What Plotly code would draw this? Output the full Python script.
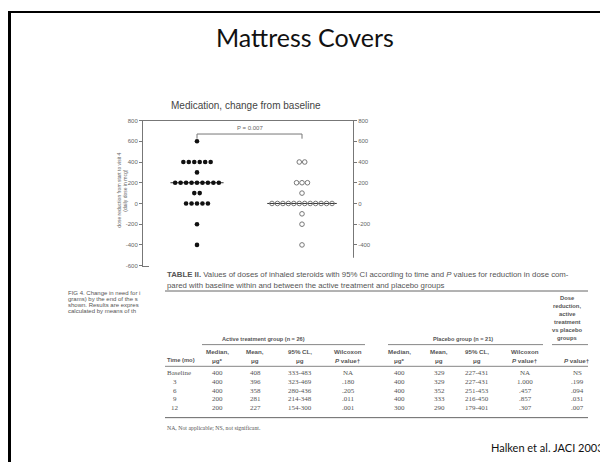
import plotly.graph_objects as go
from collections import Counter

W, H = 608, 462

# ---------------- data ----------------
slide_title = "Mattress Covers"
chart_title = "Medication, change from baseline"
y_title_lines = ["dose reduction from start to visit 4", "(daily dose in mcg)"]
group_pos = [1, 2]
active_values = [600] + [400] * 6 + [300] + [200] * 9 + [100] * 2 + [0] * 5 + [-200] + [-400]
placebo_values = [400] * 2 + [200] * 3 + [100] + [0] * 12 + [-100] + [-200] + [-400]
active_median = 200
placebo_median = 0
p_label = "P = 0.007"
y_ticks = [800, 600, 400, 200, 0, -200, -400, -600]
y_tick_text = ["800", "600", "400", "200", "0", "-200", "-400", "-600"]

fig_caption = ["FIG 4. Change in need for i", "grams) by the end of the s",
               "shown. Results are expres", "calculated by means of th"]

table_caption = ["<b>TABLE II.</b> Values of doses of inhaled steroids with 95% CI according to time and <i>P</i> values for reduction in dose com-",
                 "pared with baseline within and between the active treatment and placebo groups"]
dose_header = ["Dose", "reduction,", "active", "treatment", "vs placebo", "groups"]
group_headers = ["Active treatment group (n = 26)", "Placebo group (n = 21)"]
col_headers = [("", "Time (mo)"), ("Median,", "μg*"), ("Mean,", "μg"), ("95% CL,", "μg"),
               ("Wilcoxon", "<i>P</i> value†"), ("Median,", "μg*"), ("Mean,", "μg"),
               ("95% CL,", "μg"), ("Wilcoxon", "<i>P</i> value†"), ("", "<i>P</i> value†")]
time_labels = ["Baseline", "3", "6", "9", "12"]
act_median = ["400", "400", "400", "200", "200"]
act_mean = ["408", "396", "358", "281", "227"]
act_ci = ["333-483", "323-469", "280-436", "214-348", "154-300"]
act_p = ["NA", ".180", ".205", ".011", ".001"]
plc_median = ["400", "400", "400", "400", "300"]
plc_mean = ["329", "329", "352", "333", "290"]
plc_ci = ["227-431", "227-431", "251-453", "216-450", "179-401"]
plc_p = ["NA", "1.000", ".457", ".857", ".307"]
between_p = ["NS", ".199", ".094", ".031", ".007"]
footnote = "NA, Not applicable; NS, not significant."
source = "Halken et al. JACI 2003"

# ---------------- helpers ----------------
OFF = 8  # page body margin

def px(x):
    return (x - OFF) / W

def py(y):
    return 1 - (y - OFF) / H

STEP = 0.052

def swarm(values, center):
    counts = Counter(values)
    seen = Counter()
    xs, ys = [], []
    for v in values:
        n = counts[v]
        i = seen[v]
        seen[v] += 1
        xs.append(center + (i - (n - 1) / 2) * STEP)
        ys.append(v)
    return xs, ys

fig = go.Figure()

ax, ay = swarm(active_values, group_pos[0])
bx, by = swarm(placebo_values, group_pos[1])

# median lines
for vals, med, c in [(active_values, active_median, group_pos[0]), (placebo_values, placebo_median, group_pos[1])]:
    n = Counter(vals)[med]
    half = (n - 1) / 2 * STEP + 0.045
    fig.add_trace(go.Scatter(x=[c - half, c + half], y=[med, med], mode="lines",
                             line=dict(color="#333", width=1), showlegend=False, hoverinfo="skip"))

fig.add_trace(go.Scatter(x=ax, y=ay, mode="markers",
                         marker=dict(symbol="circle", size=4.6, color="#111", line=dict(width=0)),
                         showlegend=False))
fig.add_trace(go.Scatter(x=bx, y=by, mode="markers",
                         marker=dict(symbol="circle-open", size=4.6, color="#777", line=dict(width=1)),
                         showlegend=False))

# significance bracket
fig.add_trace(go.Scatter(x=[group_pos[0], group_pos[0], group_pos[1], group_pos[1]],
                         y=[625, 670, 670, 625], mode="lines",
                         line=dict(color="#777", width=1), showlegend=False, hoverinfo="skip"))
# invisible trace for right axis
fig.add_trace(go.Scatter(x=[1.5], y=[0], yaxis="y2", mode="markers",
                         marker=dict(opacity=0), showlegend=False, hoverinfo="skip"))

axis_font = dict(family="Liberation Sans, Arial, sans-serif", size=6, color="#666")
ydom = [py(266), py(119)]
fig.update_layout(
    width=W, height=H,
    margin=dict(l=0, r=0, t=0, b=0),
    paper_bgcolor="white", plot_bgcolor="white",
    xaxis=dict(domain=[px(143), px(353)], range=[0.4857, 2.4857], showline=True, mirror=True,
               linecolor="#777", linewidth=1, showticklabels=False, showgrid=False,
               zeroline=False, ticks=""),
    yaxis=dict(domain=ydom, range=[-600, 800], showline=True, linecolor="#777", linewidth=1,
               ticks="outside", ticklen=3, tickcolor="#777", tickvals=y_ticks, ticktext=y_tick_text,
               tickfont=axis_font, showgrid=False, zeroline=False),
    yaxis2=dict(overlaying="y", side="right", anchor="x", range=[-600, 800], showline=True,
                linecolor="#777", linewidth=1, ticks="outside", ticklen=3, tickcolor="#777",
                tickvals=y_ticks, ticktext=y_tick_text, tickfont=axis_font,
                showgrid=False, zeroline=False),
)

shapes = []
# white table sheet covering the lower part of the chart
shapes.append(dict(type="rect", xref="paper", yref="paper", x0=px(149), x1=px(616), y0=py(440), y1=py(258),
                   fillcolor="white", line=dict(width=0), layer="above"))
# slide frame
shapes.append(dict(type="line", xref="paper", yref="paper", x0=px(8), x1=px(616), y0=py(9), y1=py(9),
                   line=dict(color="black", width=2), layer="above"))
shapes.append(dict(type="line", xref="paper", yref="paper", x0=px(9.5), x1=px(9.5), y0=py(8), y1=py(470),
                   line=dict(color="black", width=3), layer="above"))

def hline(y, x0, x1, w=1, color="#666"):
    shapes.append(dict(type="line", xref="paper", yref="paper", x0=px(x0), x1=px(x1), y0=py(y), y1=py(y),
                       line=dict(color=color, width=w), layer="above"))

hline(291.7, 165, 588, 1)
hline(346, 202, 365, 0.8)
hline(346, 388, 543, 0.8)
hline(346, 552, 588, 0.8)
hline(368, 165, 588, 0.8)
hline(420, 165, 588, 1)
fig.update_layout(shapes=shapes)

ann = []
def text(x, y, s, size, color="#555", family="Liberation Sans, Arial, sans-serif", xanchor="center", **kw):
    ann.append(dict(x=px(x), y=py(y), xref="paper", yref="paper", text=s, showarrow=False,
                    xanchor=xanchor, yanchor="middle", font=dict(size=size, color=color, family=family), **kw))

text(305, 34, slide_title, 25, color="#111", family="Lato, Carlito, sans-serif")
text(246, 104, chart_title, 10, color="#444")
ann.append(dict(x=1.5, y=724, xref="x", yref="y", text=p_label, showarrow=False,
                font=dict(size=6, color="#666", family="Liberation Sans, Arial, sans-serif")))
for i, line in enumerate(y_title_lines):
    text(119 + 6 * i, 190, line, 5, color="#666", textangle=-90)
for i, line in enumerate(fig_caption):
    text(66, 294 + 6 * i, line, 6, color="#555", xanchor="left")

for i, line in enumerate(table_caption):
    text(165, 275 + 11.5 * i, line, 7.8, color="#555", xanchor="left")
for i, line in enumerate(dose_header):
    text(567, 298.3 + 8.1 * i, "<b>%s</b>" % line, 5.8, color="#555")
text(263, 340, "<b>%s</b>" % group_headers[0], 5.6)
text(463, 340, "<b>%s</b>" % group_headers[1], 5.6)

col_x = [175, 217, 255, 300, 348, 399, 439, 477, 525, 577]
for (l1, l2), cx in zip(col_headers, col_x):
    if l1:
        text(cx, 353, "<b>%s</b>" % l1, 6.2)
    if cx == col_x[0]:
        text(165, 362, "<b>%s</b>" % l2, 5.8, xanchor="left")
    else:
        text(cx, 362, "<b>%s</b>" % l2, 6.2)

serif = "Liberation Serif, Times New Roman, serif"
columns = [act_median, act_mean, act_ci, act_p, plc_median, plc_mean, plc_ci, plc_p, between_p]
for r in range(len(time_labels)):
    yy = 375 + 8.75 * r
    if r == 0:
        text(165, yy, time_labels[r], 7, family=serif, xanchor="left")
    else:
        text(175, yy, time_labels[r], 7, family=serif)
    for col, cx in zip(columns, col_x[1:]):
        text(cx, yy, col[r], 7, family=serif)

text(165, 430, footnote, 5.8, family=serif, xanchor="left")
text(489, 450, source, 11, color="#111", family="Lato, Carlito, sans-serif", xanchor="left")

fig.update_layout(annotations=ann)
fig.write_html("out.html")
